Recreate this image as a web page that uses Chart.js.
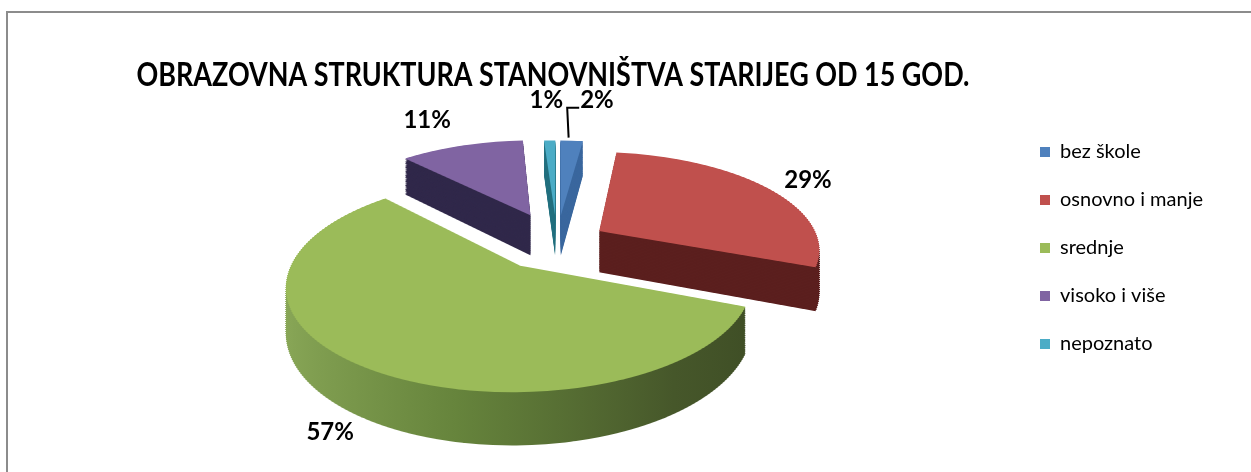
<!DOCTYPE html>
<html>
<head>
<meta charset="utf-8">
<script src="https://cdn.jsdelivr.net/npm/chart.js@4.4.0/dist/chart.umd.min.js"></script>
<style>
  html, body { margin: 0; padding: 0; background: #fff; }
  #wrap { position: relative; width: 1251px; height: 472px; overflow: hidden; }
  #frame { position: absolute; left: 6px; top: 11px; width: 1300px; height: 500px;
           border-top: 2px solid #8c8c8c; border-left: 2px solid #8c8c8c; }
  canvas { position: absolute; left: 0; top: 0; }
</style>
</head>
<body>
<div id="wrap">
  <div id="frame"></div>
  <canvas id="pie" width="1251" height="472"></canvas>
</div>
<script>
// ---------- Data ----------
const CATEGORIES = ['bez škole', 'osnovno i manje', 'srednje', 'visoko i više', 'nepoznato'];
const SHARES = [2, 29, 57, 11, 1];
const TITLE = 'OBRAZOVNA STRUKTURA STANOVNIŠTVA STARIJEG OD 15 GOD.';

// ---------- Styles ----------
const TOP_COLORS = ['#4f81bd', '#c0504d', '#9bbb59', '#8064a2', '#4bacc6'];
const SIDE_COLORS = ['#3a679e', '#5b1f1e', null, '#30284a', '#23707f']; // null -> gradient
const EXPLODE = [64, 50, 63, 70, 64];   // how far each slice is pulled out (px)

// fake 3D with a bit of perspective: pie tilted away from the viewer
const PIE_X = 557, PIE_Y = 242;
const RADIUS = 220, TILT = 0.436, PERSP = 0.17, DEPTH = 42;
const Q = PERSP / RADIUS;
const STRIP = 2;
const LABEL_FONT = 'bold 24px Lato';
const LABEL_GAP = 15, BACK_GAP = 14;

let cx0 = 0, cy0 = 0; // chart's own pie centre, set while drawing

const sAt = v => 1 / (1 - Q * v);
const vAt = (y, d) => (y - d) / (TILT + Q * y);   // y relative to PIE_Y
function toScreen(u, v, d) {
    const s = sAt(v);
    return { x: PIE_X + u * s, y: PIE_Y + s * (TILT * v + d) };
}

// maps the flat pie onto one thin horizontal band of the tilted one
function stripTransform(ctx, y0, y1, d, dpr) {
    const v0 = vAt(y0, d), v1 = vAt(y1, d);
    const sy = (y1 - y0) / (v1 - v0);
    const sm = sAt((v0 + v1) / 2);
    ctx.setTransform(dpr * sm, 0, 0, dpr * sy,
        dpr * (PIE_X - sm * cx0), dpr * (PIE_Y + y0 - sy * (cy0 + v0)));
    return [v0, v1];
}

function drawArcs(ctx, meta, wall) {
    meta.data.forEach((arc, i) => {
        const mid = (arc.startAngle + arc.endAngle) / 2;
        const opts = arc.options;
        if (wall) arc.options = Object.assign({}, opts, { backgroundColor: wall[i] });
        ctx.save();
        ctx.translate(Math.cos(mid) * EXPLODE[i], Math.sin(mid) * EXPLODE[i]);
        arc.draw(ctx);
        ctx.restore();
        arc.options = opts;
    });
}

const pie3d = {
    id: 'pie3d',
    beforeDatasetsDraw(chart) {
        const ctx = chart.ctx;
        const meta = chart.getDatasetMeta(0);
        const dpr = chart.currentDevicePixelRatio || 1;
        cx0 = meta.data[0].x;
        cy0 = meta.data[0].y;

        const greenWall = ctx.createLinearGradient(cx0 - RADIUS, 0, cx0 + RADIUS, 0);
        greenWall.addColorStop(0, '#8aa858');
        greenWall.addColorStop(0.4, '#66843c');
        greenWall.addColorStop(0.8, '#46572a');
        greenWall.addColorStop(1, '#3e4d25');
        const walls = SIDE_COLORS.map(c => c || greenWall);

        const vMin = -RADIUS - 80, vMax = RADIUS + 80;
        const yTop = Math.floor(sAt(vMin) * TILT * vMin);
        const yBot = Math.ceil(sAt(vMax) * (TILT * vMax + DEPTH));
        for (let y0 = yTop; y0 < yBot; y0 += STRIP) {
            const y1 = y0 + STRIP;
            ctx.save();
            ctx.beginPath();
            ctx.rect(0, PIE_Y + y0, chart.width, STRIP);
            ctx.clip();
            for (let d = DEPTH; d > 0; d -= 1.5) {
                const [v0, v1] = stripTransform(ctx, y0, y1, d, dpr);
                if (v1 < vMin || v0 > vMax) continue;
                drawArcs(ctx, meta, walls);
            }
            const [v0, v1] = stripTransform(ctx, y0, y1, 0, dpr);
            if (!(v1 < vMin || v0 > vMax)) drawArcs(ctx, meta, null);
            ctx.restore();
        }
        return false; // pie already drawn
    },
    afterDraw(chart) {
        const ctx = chart.ctx;
        const meta = chart.getDatasetMeta(0);
        ctx.save();

        // title
        ctx.fillStyle = '#000';
        ctx.font = 'bold 33px Lato';
        ctx.textAlign = 'center';
        ctx.textBaseline = 'middle';
        ctx.fillText(TITLE, 553, 75, 833);

        // percentage labels
        ctx.font = LABEL_FONT;
        const placed = [];
        for (let i = meta.data.length - 1; i >= 0; i--) {
            const arc = meta.data[i];
            const mid = (arc.startAngle + arc.endAngle) / 2;
            const cu = Math.cos(mid) * EXPLODE[i], cv = Math.sin(mid) * EXPLODE[i];
            const ru = cu + Math.cos(mid) * RADIUS, rv = cv + Math.sin(mid) * RADIUS;
            const c = toScreen(cu, cv, 0), rim = toScreen(ru, rv, 0);
            let dx = rim.x - c.x, dy = rim.y - c.y;
            const len = Math.hypot(dx, dy);
            dx /= len; dy /= len;
            const drop = DEPTH * sAt(rv) * Math.min(1, 2 * Math.max(0, Math.sin(mid)));
            const gap = LABEL_GAP + BACK_GAP * Math.max(0, -dy);
            const txt = SHARES[i] + '%';
            const w = ctx.measureText(txt).width, h = 22;
            const p = { x: rim.x + dx * (gap + w / 2), y: rim.y + drop + dy * (gap + h / 2) };
            let moved = false;
            placed.forEach(b => {
                if (Math.abs(p.x - b.x) < (w + b.w) / 2 + 4 && Math.abs(p.y - b.y) < h) {
                    p.x = p.x >= b.x ? b.x + (b.w + w) / 2 + 17 : b.x - (b.w + w) / 2 - 17;
                    p.y = b.y;
                    moved = true;
                }
            });
            if (moved) {
                ctx.strokeStyle = '#000';
                ctx.lineWidth = 2;
                ctx.beginPath();
                ctx.moveTo(rim.x - 3, rim.y - 3);
                ctx.lineTo(p.x - w / 2 - 13, p.y + 7);
                ctx.lineTo(p.x - w / 2 - 1, p.y + 7);
                ctx.stroke();
            }
            ctx.fillStyle = '#000';
            ctx.fillText(txt, p.x, p.y);
            placed.push({ x: p.x, y: p.y, w });
        }
        ctx.restore();
    }
};

new Chart(document.getElementById('pie'), {
    type: 'pie',
    data: {
        labels: CATEGORIES,
        datasets: [{
            data: SHARES,
            backgroundColor: TOP_COLORS,
            borderWidth: 0,
            radius: RADIUS,
            clip: false
        }]
    },
    options: {
        responsive: false,
        animation: false,
        events: [],
        layout: { padding: { top: 24, bottom: 0, right: 38, left: 0 } },
        plugins: {
            title: { display: false },
            tooltip: { enabled: false },
            legend: {
                position: 'right',
                labels: {
                    boxWidth: 10,
                    boxHeight: 10,
                    padding: 28,
                    color: '#000',
                    font: { family: 'Lato', size: 20 }
                }
            }
        }
    },
    plugins: [pie3d]
});
</script>
</body>
</html>
